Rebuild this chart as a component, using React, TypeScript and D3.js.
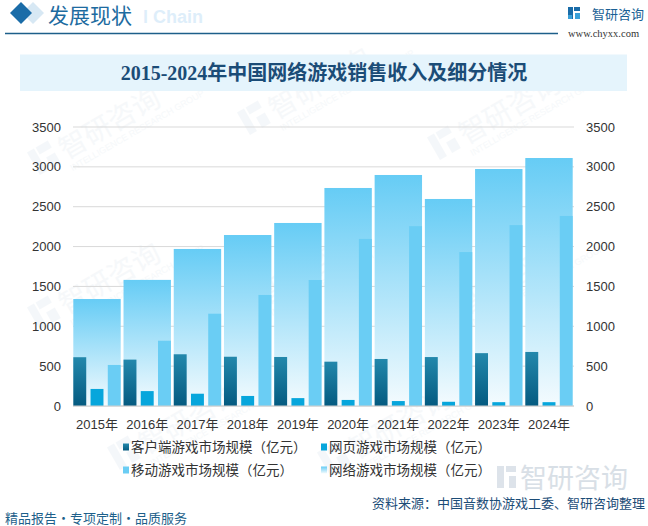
import React from "react";
import * as d3 from "d3";

const years = ["2015年", "2016年", "2017年", "2018年", "2019年", "2020年", "2021年", "2022年", "2023年", "2024年"];
const networkGame = [1342, 1582, 1970, 2145, 2296, 2735, 2898, 2597, 2973, 3111];
const clientGame = [612, 582, 649, 618, 615, 556, 590, 614, 663, 678];
const webGame = [214, 187, 154, 126, 99, 76, 62, 53, 48, 48];
const mobileGame = [515, 819, 1158, 1393, 1581, 2096, 2256, 1931, 2269, 2384];
const yTicks = [0, 500, 1000, 1500, 2000, 2500, 3000, 3500];
const seriesNames = ["客户端游戏市场规模（亿元）", "网页游戏市场规模（亿元）", "移动游戏市场规模（亿元）", "网络游戏市场规模（亿元）"];

const W = 648;
const H = 526;
const FONT = "'Liberation Sans', Arial, 'Noto Sans CJK SC', sans-serif";
const CJK = "'Noto Sans CJK SC', 'Liberation Sans', sans-serif";

export default function App() {
  const x = d3.scaleBand<string>().domain(years).range([73.3, 572.7]).paddingInner(0.056).paddingOuter(0);
  const sub = d3.scaleBand<string>().domain(["c", "w", "m"]).range([0, x.bandwidth()]).paddingInner(0.25);
  const y = d3.scaleLinear().domain([0, 3500]).range([406, 127]);
  const gridX0 = 73;
  const gridX1 = 574;

  const watermarks = [
    [40, 175], [250, 135], [440, 160], [40, 330], [240, 320], [440, 330], [120, 470], [330, 475],
  ];

  return (
    <svg width={W} height={H} style={{ position: "absolute", left: 0, top: 0, background: "#fff" }} xmlns="http://www.w3.org/2000/svg">
      <defs>
        <linearGradient id="gNet" x1="0" y1="0" x2="0" y2="1">
          <stop offset="0" stopColor="#66ccf5" />
          <stop offset="1" stopColor="#f4fbfe" />
        </linearGradient>
        <linearGradient id="gClient" x1="0" y1="0" x2="0" y2="1">
          <stop offset="0" stopColor="#2388ac" />
          <stop offset="1" stopColor="#045a80" />
        </linearGradient>
        <linearGradient id="gFoot" x1="0" y1="0" x2="1" y2="0">
          <stop offset="0" stopColor="#1b5e8c" />
          <stop offset="1" stopColor="#4a90c0" />
        </linearGradient>
      </defs>
      <rect x={0} y={0} width={W} height={H} fill="#fff" />

      {/* watermarks */}
      {watermarks.map(([wx, wy], i) => (
        <g key={i} transform={`translate(${wx},${wy}) rotate(-30)`} opacity={0.4}>
          <rect x={0} y={-26} width={8} height={26} fill="#e6edf3" />
          <rect x={10} y={-26} width={14} height={8} fill="#e6edf3" />
          <rect x={14} y={-12} width={10} height={12} fill="#e6edf3" />
          <text x={30} y={0} fontFamily={CJK} fontSize={28} fill="#e9eff4">智研咨询</text>
          <text x={30} y={13} fontFamily={FONT} fontSize={9} fill="#e9eff4">INTELLIGENCE RESEARCH GROUP</text>
        </g>
      ))}

      {/* header */}
      <path d="M33,2 L44,13 L33,24 L22,13 Z" fill="#d7e8f4" />
      <path d="M21,2 L32,13 L21,24 L10,13 Z" fill="#1a6ca8" />
      <text x={143} y={23} fontFamily={FONT} fontWeight="bold" fontSize={18} fill="#deeefa">l Chain</text>
      <text x={48} y={23} fontFamily={CJK} fontSize={21} fill="#1d6ba0">发展现状</text>
      <line x1={5} x2={558} y1={33.5} y2={33.5} stroke="#1d5f8a" strokeWidth={1.5} />
      <g>
        <rect x={568} y={7} width={5} height={12} fill="#1a6ca8" />
        <rect x={574} y={7} width={6} height={4} fill="#1a6ca8" />
        <rect x={575} y={13} width={5} height={6} fill="#3aa0d8" />
        <rect x={568} y={15} width={4} height={4} fill="#3aa0d8" />
      </g>
      <text x={592} y={19} fontFamily={CJK} fontSize={13} fill="#1a5f95">智研咨询</text>
      <text x={568} y={37} fontFamily="'Liberation Serif', serif" fontSize={10.5} fill="#333">www.chyxx.com</text>

      {/* title band */}
      <rect x={20} y={54.5} width={607} height={36.5} fill="#e5f4fc" />
      <text x={324} y={80} textAnchor="middle" fontFamily="'Liberation Serif', 'Noto Sans CJK SC', serif" fontWeight="bold" fontSize={20} fill="#1b4c77">
        2015-2024年中国网络游戏销售收入及细分情况
      </text>

      {/* grid */}
      {yTicks.map((t) => (
        <line key={t} x1={gridX0} x2={gridX1} y1={y(t)} y2={y(t)} stroke={t === 0 ? "#cfcfcf" : "#d9d9d9"} strokeWidth={1} />
      ))}

      {/* bars */}
      {years.map((yr, i) => {
        const bx = x(yr)!;
        return (
          <g key={yr}>
            <rect x={bx} y={y(networkGame[i])} width={x.bandwidth()} height={y(0) - y(networkGame[i])} fill="url(#gNet)" />
            <rect x={bx + sub("c")!} y={y(clientGame[i])} width={sub.bandwidth()} height={y(0) - y(clientGame[i])} fill="url(#gClient)" />
            <rect x={bx + sub("w")!} y={y(webGame[i])} width={sub.bandwidth()} height={y(0) - y(webGame[i])} fill="#07a6dc" />
            <rect x={bx + sub("m")!} y={y(mobileGame[i])} width={sub.bandwidth()} height={y(0) - y(mobileGame[i])} fill="#6acdf4" />
          </g>
        );
      })}
      <line x1={gridX0} x2={gridX1} y1={y(0)} y2={y(0)} stroke="#cfcfcf" strokeWidth={1} />

      {/* axes labels */}
      {yTicks.map((t) => (
        <g key={"l" + t}>
          <text x={61} y={y(t) + 4.5} textAnchor="end" fontFamily={FONT} fontSize={13} fill="#333">{t}</text>
          <text x={586} y={y(t) + 4.5} textAnchor="start" fontFamily={FONT} fontSize={13} fill="#333">{t}</text>
        </g>
      ))}
      {years.map((yr) => (
        <text key={"x" + yr} x={x(yr)! + x.bandwidth() / 2} y={429} textAnchor="middle" fontFamily={FONT} fontSize={13} fill="#333">{yr}</text>
      ))}

      {/* legend */}
      {seriesNames.map((name, i) => {
        const col = i % 2;
        const row = Math.floor(i / 2);
        const lx = col === 0 ? 123 : 321;
        const ly = row === 0 ? 447 : 470;
        const fills = ["url(#gClient)", "#07a6dc", "#6acdf4", "url(#gNet)"];
        return (
          <g key={name}>
            <rect x={lx} y={ly - 3.5} width={6} height={7} fill={fills[i]} />
            <text x={lx + 8} y={ly + 5} fontFamily={CJK} fontSize={13.5} fill="#333">{name}</text>
          </g>
        );
      })}

      {/* bottom-right watermark */}
      <g opacity={0.8}>
        <rect x={497} y={466} width={7} height={22} fill="#d5dde5" />
        <rect x={506} y={466} width={10} height={6} fill="#d5dde5" />
        <rect x={509} y={476} width={7} height={12} fill="#d5dde5" />
        <text x={520} y={488} fontFamily={CJK} fontSize={27} fill="#cfd8e1">智研咨询</text>
      </g>

      {/* footer */}
      <line x1={5} x2={358} y1={507} y2={507} stroke="url(#gFoot)" strokeWidth={1.5} />
      <text x={645} y={508} textAnchor="end" fontFamily={CJK} fontSize={13} fill="#1b4c77">资料来源：中国音数协游戏工委、智研咨询整理</text>
      <text x={5} y={523} fontFamily={CJK} fontSize={13} fill="#1d5f8a">精品报告・专项定制・品质服务</text>
    </svg>
  );
}
